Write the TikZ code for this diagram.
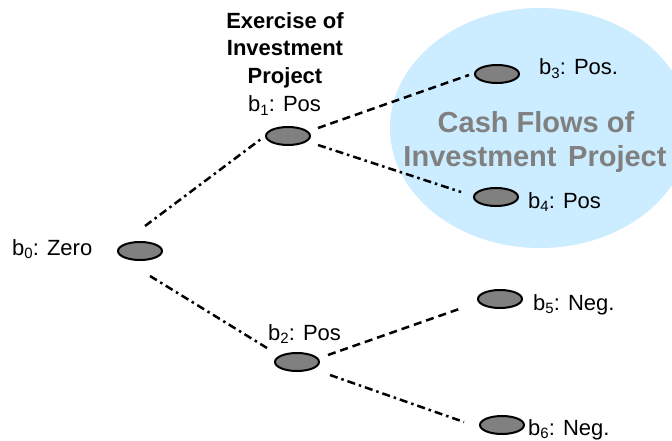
\documentclass[tikz,border=0pt]{standalone}
\usepackage{fontspec}
\usepackage{graphicx}
\setmainfont{Liberation Sans}
\usetikzlibrary{shapes.geometric}
\definecolor{cloudblue}{RGB}{204,236,255}
\definecolor{stategray}{RGB}{128,128,128}
% subscript for state labels
\newcommand\lsub[1]{\raisebox{-0.32ex}{\scalebox{0.68}{#1}}}
\begin{document}
\begin{tikzpicture}[x=1pt,y=-1pt,
  state/.style={ellipse,draw=black,line width=2pt,fill=stategray,
    minimum width=44pt,minimum height=18pt,inner sep=0pt},
  lbl/.style={font=\fontsize{22}{26}\selectfont,inner sep=0pt,anchor=base west},
  dashdot/.style={line width=2.5pt,dash pattern=on 8pt off 4pt on 2.5pt off 4pt},
  dashline/.style={line width=2.5pt,dash pattern=on 8pt off 5pt}]
\useasboundingbox (0,0) rectangle (672,441);

% region of the project's cash flows
\begin{scope}
  \clip (0,0) rectangle (672,441);
  \fill[cloudblue] (540,128) ellipse [x radius=150, y radius=120];
\end{scope}
\node[inner sep=0pt,anchor=base,text=stategray,font=\bfseries\fontsize{29}{34}\selectfont] (cf1) at (536,132) {Cash Flows of};
\node[inner sep=0pt,anchor=base,text=stategray,font=\bfseries\fontsize{29}{34}\selectfont] (cf2) at (535,167) {Investment\hspace{0.4em}Project};

% states of the tree
\node[state] (b0) at (140,251) {};
\node[state] (b1) at (288,136) {};
\node[state] (b2) at (297,362) {};
\node[state] (b3) at (497,74) {};
\node[state] (b4) at (496,197) {};
\node[state] (b5) at (500,299) {};
\node[state] (b6) at (502,425) {};

% labels
\node[lbl] (l0) at (12,255) {b\lsub{0}: Zero};
\node[lbl] (l1) at (248,112) {b\lsub{1}: Pos};
\node[lbl] (l2) at (268,340) {b\lsub{2}: Pos};
\node[lbl] (l3) at (539,75) {b\lsub{3}: Pos.};
\node[lbl] (l4) at (528,208) {b\lsub{4}: Pos};
\node[lbl] (l5) at (533,310) {b\lsub{5}: Neg.};
\node[lbl] (l6) at (528,435) {b\lsub{6}: Neg.};
\node[inner sep=0pt,anchor=north,align=center,font=\bfseries\fontsize{22}{27.5}\selectfont] (ex) at (285,12) {Exercise of\\Investment\\Project};

% branches
\draw[dashdot] ([shift={(5,-15)}]b0.north) -- ([shift={(-4,3)}]b1.west);
\draw[dashdot] ([shift={(10,15)}]b0.south) -- ([shift={(-7,-14)}]b2.west);
\draw[dashline] ([shift={(7,-8)}]b1.east) -- ([shift={(-5,1)}]b3.west);
\draw[dashdot] ([shift={(7,9)}]b1.east) -- ([shift={(-12,-5)}]b4.west);
\draw[dashline] ([shift={(8,-7)}]b2.east) -- ([shift={(-15,9)}]b5.west);
\draw[dashdot] ([shift={(10,13)}]b2.east) -- ([shift={(-15,-3)}]b6.west);
\end{tikzpicture}
\end{document}
